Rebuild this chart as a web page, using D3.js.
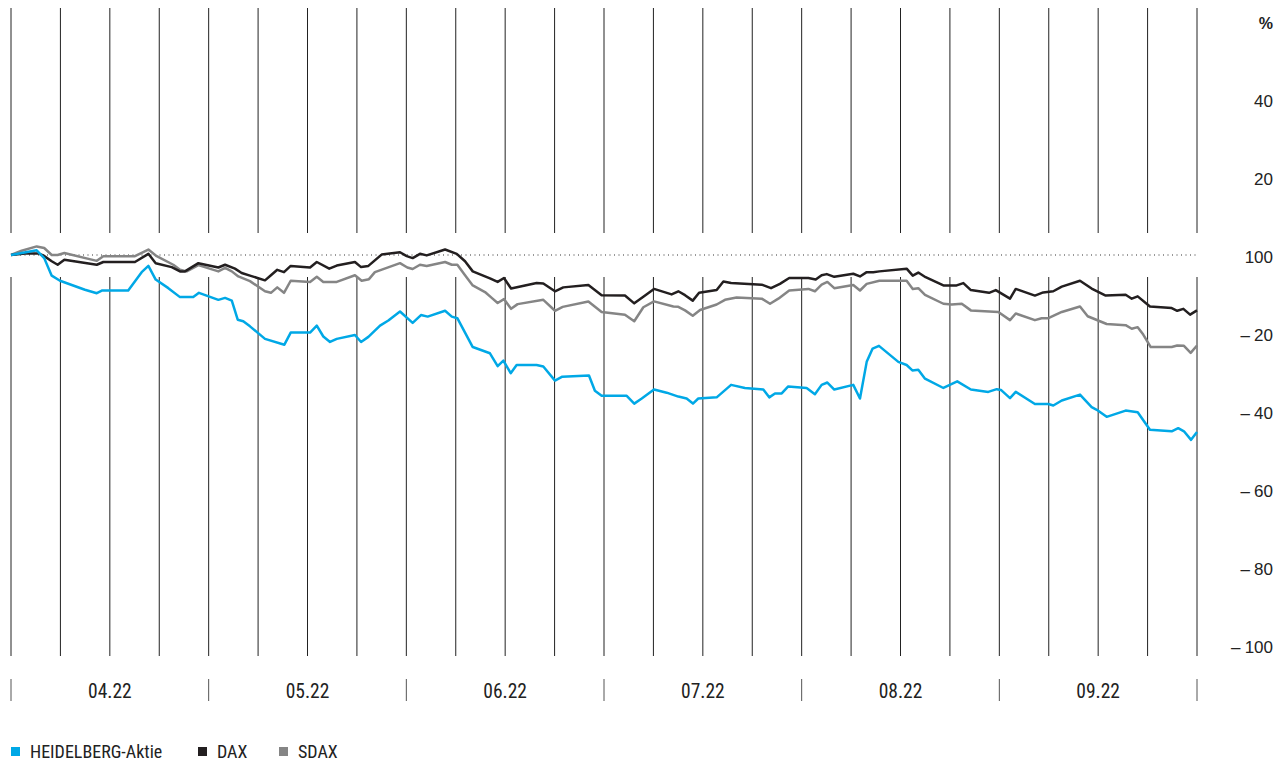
<!DOCTYPE html>
<html>
<head>
<meta charset="utf-8">
<script src="https://cdn.jsdelivr.net/npm/d3@7"></script>
<style>
  html, body { margin: 0; padding: 0; background: #fff; }
  svg { display: block; }
</style>
</head>
<body>
<svg id="chart" width="1288" height="765"></svg>
<script>
// ---- DATA ----
// x positions are months since 01.04.22 (0 = start of April, 6 = end of September)
const months = ["04.22", "05.22", "06.22", "07.22", "08.22", "09.22"];
const yTicks = [40, 20, 0, -20, -40, -60, -80, -100];
const yTickLabels = ["40", "20", "100", "\u2013\u200520", "\u2013\u200540", "\u2013\u200560", "\u2013\u200580", "\u2013\u2005100"];
const seriesNames = ["HEIDELBERG-Aktie", "DAX", "SDAX"];

const heidelberg = [
  [0,0],[0.130,1.2],[0.168,-0.8],[0.206,-5.3],[0.248,-6.6],[0.374,-8.9],[0.434,-9.8],[0.462,-9.1],
  [0.593,-9.1],[0.661,-4.4],[0.695,-2.8],[0.732,-6.3],[0.796,-8.5],[0.855,-10.8],[0.922,-10.8],
  [0.951,-9.7],[1.049,-11.5],[1.083,-11.0],[1.117,-11.7],[1.147,-16.6],[1.175,-17.0],[1.209,-18.3],
  [1.285,-21.5],[1.383,-23.0],[1.415,-19.9],[1.513,-19.9],[1.547,-18.1],[1.580,-20.9],[1.614,-22.3],
  [1.648,-21.5],[1.740,-20.5],[1.771,-22.3],[1.808,-21.0],[1.867,-18.1],[1.909,-16.8],[1.968,-14.5],
  [2.032,-17.4],[2.074,-15.4],[2.108,-15.8],[2.196,-14.3],[2.230,-15.8],[2.258,-16.2],[2.336,-23.6],
  [2.423,-25.2],[2.462,-28.5],[2.491,-27.1],[2.528,-30.3],[2.558,-28.2],[2.659,-28.2],[2.693,-28.6],
  [2.752,-32.2],[2.789,-31.2],[2.924,-30.9],[2.954,-34.8],[2.988,-36.1],[3.115,-36.1],[3.153,-38.1],
  [3.191,-36.8],[3.253,-34.5],[3.317,-35.3],[3.376,-36.3],[3.418,-36.8],[3.450,-38.1],[3.477,-36.8],
  [3.570,-36.5],[3.643,-33.3],[3.713,-34.1],[3.806,-34.5],[3.836,-36.5],[3.865,-35.5],[3.899,-35.5],
  [3.932,-33.7],[4.025,-34.1],[4.067,-35.7],[4.101,-33.3],[4.130,-32.7],[4.165,-34.5],[4.261,-33.3],
  [4.295,-36.8],[4.329,-27.4],[4.359,-24.0],[4.391,-23.3],[4.489,-27.4],[4.531,-28.2],[4.560,-29.6],
  [4.590,-29.4],[4.624,-31.7],[4.717,-34.1],[4.787,-32.4],[4.856,-34.5],[4.944,-35.1],[4.987,-34.4],
  [5.008,-34.6],[5.054,-36.7],[5.083,-35.1],[5.180,-38.2],[5.248,-38.2],[5.273,-38.6],[5.316,-37.3],
  [5.408,-35.8],[5.467,-39.0],[5.493,-39.7],[5.543,-41.5],[5.639,-39.9],[5.700,-40.3],[5.762,-44.8],
  [5.872,-45.2],[5.905,-44.4],[5.934,-45.2],[5.970,-47.4],[6.000,-45.4]
];

const dax = [
  [0,0],[0.071,0.4],[0.138,0.4],[0.163,-0.1],[0.206,-1.6],[0.236,-2.5],[0.270,-1.2],[0.434,-2.5],
  [0.467,-1.8],[0.627,-1.8],[0.695,0.3],[0.732,-2.1],[0.813,-3.1],[0.855,-4.2],[0.880,-4.2],
  [0.948,-2.1],[1.049,-3.2],[1.083,-2.5],[1.133,-3.5],[1.167,-4.6],[1.209,-5.3],[1.285,-6.5],
  [1.315,-5.2],[1.347,-3.8],[1.381,-4.4],[1.415,-2.8],[1.513,-3.2],[1.547,-1.8],[1.610,-3.5],
  [1.648,-2.7],[1.740,-1.8],[1.771,-3.1],[1.808,-2.8],[1.875,0.1],[1.968,0.7],[2.002,-0.3],
  [2.032,-0.8],[2.069,0.3],[2.103,-0.1],[2.196,1.4],[2.255,0.3],[2.297,-1.6],[2.336,-4.2],
  [2.423,-6.0],[2.462,-6.9],[2.494,-5.9],[2.530,-8.6],[2.659,-7.2],[2.693,-7.3],[2.752,-9.3],
  [2.794,-8.3],[2.921,-7.7],[2.988,-10.3],[3.106,-10.4],[3.153,-12.4],[3.199,-10.7],[3.253,-8.7],
  [3.342,-10.1],[3.376,-9.3],[3.410,-10.3],[3.449,-11.7],[3.481,-9.7],[3.570,-9.0],[3.604,-6.8],
  [3.643,-7.2],[3.798,-7.6],[3.845,-8.5],[3.890,-7.4],[3.937,-5.9],[4.034,-5.9],[4.071,-6.3],
  [4.101,-5.2],[4.127,-4.9],[4.165,-5.6],[4.261,-4.8],[4.295,-5.5],[4.329,-4.4],[4.362,-4.4],
  [4.393,-4.2],[4.531,-3.5],[4.562,-5.3],[4.590,-4.5],[4.627,-5.7],[4.717,-7.8],[4.784,-7.8],
  [4.818,-7.2],[4.856,-9.0],[4.948,-9.7],[4.982,-9.0],[5.054,-11.2],[5.083,-8.7],[5.180,-10.4],
  [5.222,-9.6],[5.273,-9.3],[5.316,-8.1],[5.408,-6.6],[5.467,-8.6],[5.538,-10.4],[5.639,-10.2],
  [5.670,-11.2],[5.700,-10.6],[5.762,-13.2],[5.872,-13.6],[5.900,-14.3],[5.931,-13.8],[5.965,-15.3],
  [6.000,-14.2]
];

const sdax = [
  [0,0],[0.054,1.1],[0.130,2.2],[0.168,1.8],[0.206,0],[0.236,0],[0.270,0.5],[0.434,-1.5],
  [0.467,-0.3],[0.627,-0.3],[0.695,1.4],[0.737,-0.3],[0.821,-2.5],[0.855,-3.8],[0.889,-4.2],
  [0.948,-2.6],[1.049,-4.2],[1.083,-3.3],[1.117,-4.2],[1.150,-5.5],[1.209,-6.7],[1.285,-9.3],
  [1.315,-9.7],[1.347,-8.3],[1.381,-9.7],[1.415,-6.6],[1.513,-6.9],[1.547,-5.6],[1.580,-6.9],
  [1.648,-6.9],[1.740,-5.2],[1.774,-6.6],[1.811,-6.2],[1.841,-4.4],[1.968,-2.1],[2.005,-3.2],
  [2.032,-3.6],[2.069,-2.5],[2.103,-2.8],[2.196,-1.8],[2.230,-2.5],[2.258,-2.5],[2.297,-5.2],
  [2.336,-7.8],[2.398,-9.5],[2.432,-11.0],[2.462,-12.3],[2.494,-11.3],[2.530,-13.8],[2.563,-12.6],
  [2.693,-11.5],[2.752,-14.3],[2.791,-13.3],[2.921,-11.9],[2.988,-14.6],[3.106,-15.3],[3.153,-17.0],
  [3.199,-13.4],[3.253,-11.9],[3.351,-13.2],[3.376,-13.3],[3.410,-14.2],[3.449,-15.6],[3.486,-14.1],
  [3.570,-12.7],[3.612,-11.5],[3.671,-10.9],[3.798,-11.2],[3.840,-12.5],[3.882,-11.2],[3.937,-9.1],
  [4.034,-8.7],[4.067,-9.3],[4.101,-7.6],[4.130,-6.9],[4.165,-8.5],[4.261,-7.7],[4.295,-9.1],
  [4.329,-7.4],[4.393,-6.6],[4.531,-6.6],[4.562,-8.7],[4.590,-8.5],[4.624,-10.2],[4.717,-12.5],
  [4.759,-12.7],[4.810,-12.5],[4.856,-14.2],[4.995,-14.6],[5.054,-16.7],[5.083,-15.0],[5.180,-16.7],
  [5.214,-16.2],[5.248,-16.2],[5.316,-14.6],[5.408,-13.2],[5.447,-15.7],[5.543,-17.7],[5.639,-18.0],
  [5.670,-18.9],[5.700,-18.5],[5.728,-20.4],[5.766,-23.6],[5.872,-23.6],[5.900,-23.2],[5.934,-23.3],
  [5.968,-25.1],[6.000,-23.2]
];

// ---- LAYOUT ----
const colors = { heidelberg: "#00a8e6", dax: "#231f20", sdax: "#858585" };
const svg = d3.select("#chart");

const x = d3.scaleLinear().domain([0, 6]).range([11, 1197]);
const y = d3.scaleLinear().domain([-100, 40]).range([645, 99]);

const condensed = "'Liberation Sans Narrow', 'Roboto Condensed', 'DejaVu Sans Condensed', 'Liberation Sans', sans-serif";
const regular = "'Liberation Sans', Arial, sans-serif";

// vertical grid lines every quarter month, with gap around the baseline
const gridT = d3.range(0, 6.0001, 0.25);
const gTop = 8, gGapTop = 233, gGapBottom = 277, gBottom = 656;
const grid = svg.append("g").attr("stroke", "#222").attr("stroke-width", 1);
gridT.forEach(t => {
  grid.append("line").attr("x1", x(t)).attr("x2", x(t)).attr("y1", gTop).attr("y2", gGapTop);
  grid.append("line").attr("x1", x(t)).attr("x2", x(t)).attr("y1", gGapBottom).attr("y2", gBottom);
});

// dotted baseline at 0
svg.append("line")
  .attr("x1", x(0)).attr("x2", x(6)).attr("y1", y(0)).attr("y2", y(0))
  .attr("stroke", "#333").attr("stroke-width", 1).attr("stroke-dasharray", "1,3.5");

// y labels on the right
const yl = svg.append("g").attr("font-family", regular).attr("font-size", 17).attr("fill", "#222")
  .attr("text-anchor", "end");
yTicks.forEach((v, i) => {
  yl.append("text").attr("x", 1273).attr("y", y(v) + 2).attr("dominant-baseline", "central").text(yTickLabels[i]);
});
svg.append("text").attr("x", 1273).attr("y", 23).attr("text-anchor", "end")
  .attr("dominant-baseline", "central").attr("font-family", regular).attr("font-weight", "bold")
  .attr("font-size", 16).attr("fill", "#222").text("%");

// month ticks and labels
const mt = svg.append("g");
d3.range(0, 7).forEach(m => {
  mt.append("line").attr("x1", x(m)).attr("x2", x(m)).attr("y1", 679).attr("y2", 701)
    .attr("stroke", "#555").attr("stroke-width", 1);
});
months.forEach((m, i) => {
  mt.append("text").attr("x", x(i + 0.5)).attr("y", 691).attr("text-anchor", "middle")
    .attr("dominant-baseline", "central").attr("font-family", condensed).attr("font-size", 19.5)
    .attr("fill", "#222").text(m);
});

// series lines
const line = d3.line().x(d => x(d[0])).y(d => y(d[1]));
const series = [
  { data: sdax, color: colors.sdax },
  { data: dax, color: colors.dax },
  { data: heidelberg, color: colors.heidelberg }
];
series.forEach(s => {
  svg.append("path").datum(s.data).attr("d", line).attr("fill", "none")
    .attr("stroke", s.color).attr("stroke-width", 2.5).attr("stroke-linejoin", "round");
});

// legend
const legendItems = [
  { name: seriesNames[0], color: colors.heidelberg, x: 11 },
  { name: seriesNames[1], color: colors.dax, x: 198 },
  { name: seriesNames[2], color: colors.sdax, x: 279 }
];
const lg = svg.append("g");
legendItems.forEach(it => {
  lg.append("rect").attr("x", it.x).attr("y", 747).attr("width", 9).attr("height", 9).attr("fill", it.color);
  lg.append("text").attr("x", it.x + 19).attr("y", 751.5).attr("dominant-baseline", "central")
    .attr("font-family", condensed).attr("font-size", 18).attr("fill", "#222").text(it.name);
});
</script>
</body>
</html>
